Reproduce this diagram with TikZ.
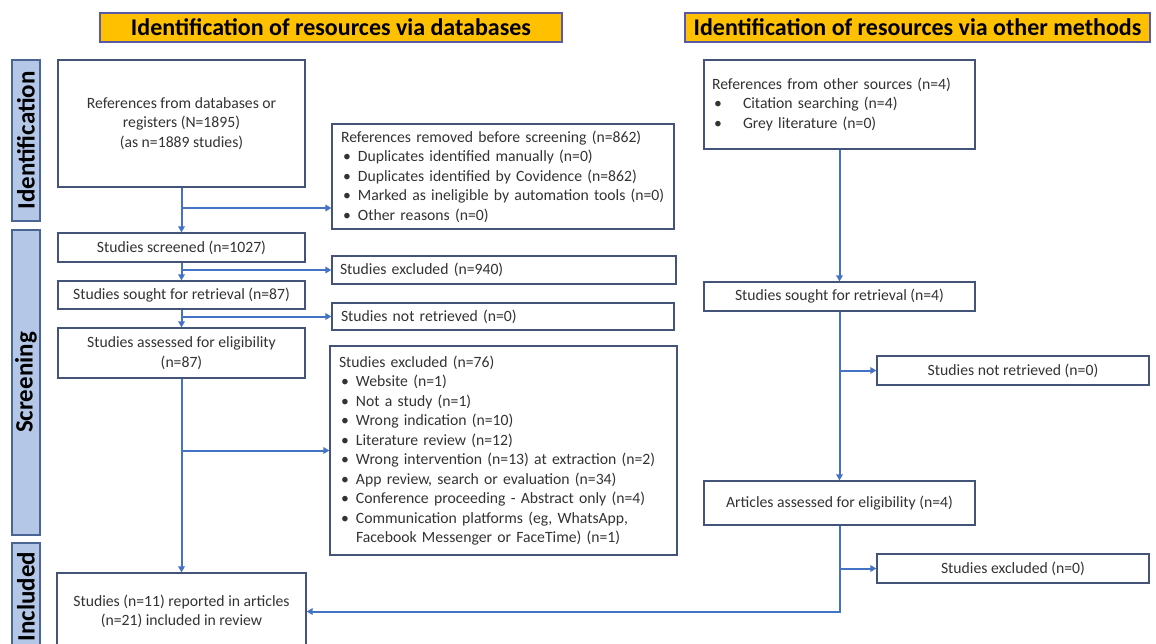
\documentclass[tikz,border=0pt]{standalone}
\usepackage{fontspec}
\setmainfont{Carlito}
\usepackage{tikz}
\usetikzlibrary{arrows.meta}
\usepackage{xcolor}
\definecolor{flowblue}{HTML}{4472C4}
\definecolor{boxline}{RGB}{68,84,120}
\definecolor{hdrfill}{HTML}{FFC000}
\definecolor{barfill}{HTML}{B4C7E7}
\definecolor{barline}{HTML}{4A6594}
\newcommand{\bl}{\makebox[17pt][l]{\hspace{2pt}\textbullet}}
\newcommand{\blw}{\makebox[31pt][l]{\hspace{2pt}\textbullet}}

\begin{document}
\begin{tikzpicture}[x=1pt, y=-1pt,
    box/.style={draw=boxline, line width=1.2pt, fill=white, text=black!80,
        font=\fontsize{15.7}{19.5}\selectfont, inner sep=0pt},
    header/.style={draw=gray!70!blue, line width=1.1pt, fill=hdrfill,
        font=\fontsize{24}{26}\selectfont\bfseries, inner sep=0pt},
    bar/.style={draw=barline, line width=1.2pt, fill=barfill, rotate=90,
        font=\fontsize{25}{26}\selectfont\bfseries, inner sep=0pt},
    arr/.style={draw=flowblue, line width=2pt, -{Triangle[length=6pt,width=6.5pt]}}]
    \useasboundingbox (0,0) rectangle (1156,643);

    % headers and side bars
    \node[header, minimum width=462, minimum height=29] (hdrA) at (331,27.5) {Identification of resources via databases};
    \node[header, minimum width=465, minimum height=29] (hdrB) at (917.5,27.5) {Identification of resources via other methods};
    \node[bar, minimum width=161, minimum height=28] (barI) at (26,140.5) {Identification};
    \node[bar, minimum width=305, minimum height=28] (barS) at (26,382.5) {Screening};
    \node[bar, minimum width=107, minimum height=28] (barN) at (26,596.5) {Included};

    % databases column
    \node[box, minimum width=247, minimum height=127, align=center] (refs) at (181.5,123.5)
        {References from databases or\\registers (N=1895)\\(as n=1889 studies)};
    \node[box, minimum width=342, minimum height=105, text width=324, align=left] (removed) at (503,176.5)
        {References removed before screening (n=862)\\
         \bl Duplicates identified manually (n=0)\\
         \bl Duplicates identified by Covidence (n=862)\\
         \bl Marked as ineligible by automation tools (n=0)\\
         \bl Other reasons (n=0)};
    \node[box, minimum width=247, minimum height=29] (scr) at (181.5,247.5) {Studies screened (n=1027)};
    \node[box, minimum width=344, minimum height=28, text width=328, align=left] (ex940) at (504,270) {Studies excluded (n=940)};
    \node[box, minimum width=247, minimum height=28] (sgt) at (181.5,295) {Studies sought for retrieval (n=87)};
    \node[box, minimum width=342, minimum height=27, text width=324, align=left] (nr) at (503,316.5) {Studies not retrieved (n=0)};
    \node[box, minimum width=247, minimum height=50, align=center] (asd) at (181.5,353) {Studies assessed for eligibility\\(n=87)};
    \node[box, minimum width=347, minimum height=209, text width=329, align=left] (ex76) at (503.5,450.5)
        {Studies excluded (n=76)\\
         \bl Website (n=1)\\
         \bl Not a study (n=1)\\
         \bl Wrong indication (n=10)\\
         \bl Literature review (n=12)\\
         \bl Wrong intervention (n=13) at extraction (n=2)\\
         \bl App review, search or evaluation (n=34)\\
         \bl Conference proceeding - Abstract only (n=4)\\
         \bl Communication platforms (eg, WhatsApp,\\
         \hspace*{17pt}Facebook Messenger or FaceTime) (n=1)};
    \node[box, minimum width=249, minimum height=77, align=center] (inc) at (181.5,611.5)
        {Studies (n=11) reported in articles\\(n=21) included in review};

    % other methods column
    \node[box, minimum width=271, minimum height=89, text width=255, align=left] (oth) at (839.5,104.5)
        {References from other sources (n=4)\\
         \blw Citation searching (n=4)\\
         \blw Grey literature (n=0)};
    \node[box, minimum width=271, minimum height=29] (sgt4) at (839.5,296.5) {Studies sought for retrieval (n=4)};
    \node[box, minimum width=272, minimum height=29] (nr4) at (1013,370.5) {Studies not retrieved (n=0)};
    \node[box, minimum width=271, minimum height=44] (asd4) at (839.5,503) {Articles assessed for eligibility (n=4)};
    \node[box, minimum width=272, minimum height=29] (ex0) at (1013,568.5) {Studies excluded (n=0)};

    % connectors
    \coordinate (j1) at (refs.south |- 0,208);
    \draw[arr] (refs) -- (scr);
    \draw[arr] (j1) -- (j1 -| removed.west);
    \draw[arr] (scr) -- (sgt);
    \draw[arr] (scr.south |- ex940.west) -- (ex940.west);
    \draw[arr] (sgt) -- (asd);
    \draw[arr] (sgt.south |- nr.west) -- (nr.west);
    \draw[arr] (asd) -- (inc);
    \draw[arr] (asd.south |- ex76.west) -- (ex76.west);

    \draw[arr] (oth) -- (sgt4);
    \draw[arr] (sgt4) -- (asd4);
    \draw[arr] (sgt4.south |- nr4.west) -- (nr4.west);
    \draw[arr] (asd4.south) |- (inc.east);
    \draw[arr] (asd4.south |- ex0.west) -- (ex0.west);
\end{tikzpicture}
\end{document}
